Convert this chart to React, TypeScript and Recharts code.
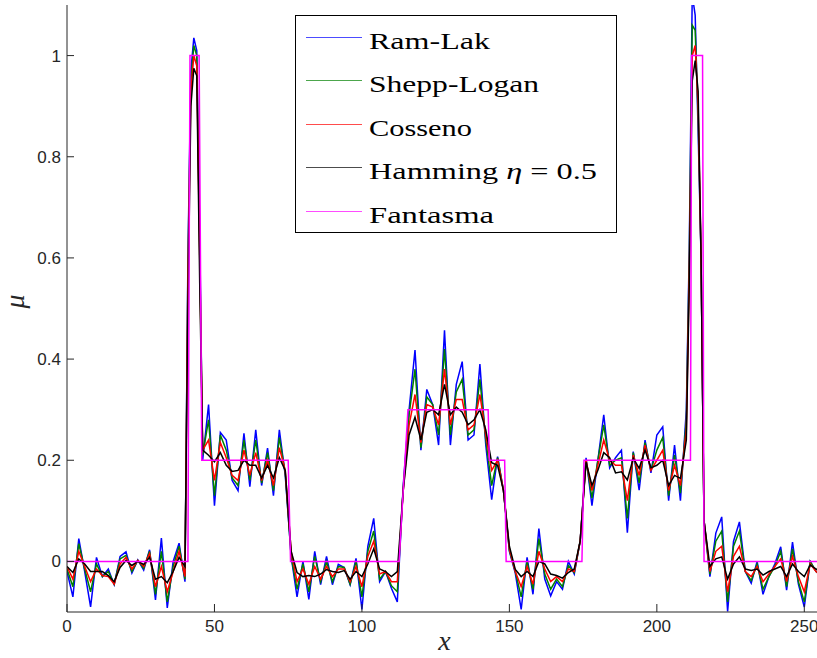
import { LineChart, Line, XAxis, YAxis, Legend, Label } from "recharts";

// sample positions (step 2, plus the odd samples around the two narrow peaks)
const xs = [
  0, 2, 4, 6, 8, 10, 12, 14, 16, 18, 20, 22, 24, 26, 28, 30, 32, 34, 36, 38, 40, 41, 42, 43, 44, 45,
  46, 48, 50, 52, 54, 56, 58, 60, 62, 64, 66, 68, 70, 72, 74, 76, 78, 80, 82, 84, 86, 88, 90, 92, 94,
  96, 98, 100, 102, 104, 106, 108, 110, 112, 114, 116, 118, 120, 122, 124, 126, 128, 130, 132, 134,
  136, 138, 140, 142, 144, 146, 148, 150, 152, 154, 156, 158, 160, 162, 164, 166, 168, 170, 172, 174,
  176, 178, 180, 182, 184, 186, 188, 190, 192, 194, 196, 198, 200, 202, 204, 206, 208, 210, 211, 212,
  213, 214, 215, 216, 218, 220, 222, 224, 226, 228, 230, 232, 234, 236, 238, 240, 242, 244, 246, 248,
  250, 252, 254, 256,
];

const ramLak = [
  -0.02, -0.07, 0.045, -0.02, -0.09, 0.008, -0.03, -0.015, -0.046, 0.01, 0.019, -0.023, 0.003, -0.017,
  0.023, -0.076, 0.046, -0.092, 0.0, 0.036, -0.04, 0.6, 0.97, 1.035, 1.01, 0.65,
  0.2, 0.31, 0.11, 0.255, 0.24, 0.16, 0.14, 0.253, 0.148, 0.26, 0.15, 0.224, 0.13, 0.26, 0.17, 0.01,
  -0.07, 0.0, -0.075, 0.02, -0.046, 0.01, -0.046, -0.006, -0.012, -0.046, 0.006, -0.095, 0.03, 0.085,
  -0.04, -0.02, -0.053, -0.08, 0.15, 0.3, 0.418, 0.22, 0.34, 0.31, 0.23, 0.457, 0.23, 0.35, 0.395,
  0.24, 0.25, 0.39, 0.23, 0.122, 0.207, 0.14, 0.02, -0.023, -0.095, 0.008, -0.065, 0.065, -0.035,
  -0.068, -0.04, -0.055, 0.0, -0.025, 0.04, 0.205, 0.11, 0.2, 0.29, 0.185, 0.205, 0.22, 0.057, 0.217,
  0.141, 0.24, 0.175, 0.25, 0.266, 0.12, 0.23, 0.12, 0.3, 0.62, 1.12, 1.08, 0.85, 0.6, 0.08, -0.03,
  0.056, 0.088, -0.099, 0.04, 0.078, -0.02, -0.043, 0.0, -0.065, -0.03, -0.005, 0.029, -0.057, 0.038,
  -0.045, -0.09, 0.0, -0.02, -0.03,
];

const sheppLogan = [
  -0.015, -0.05, 0.035, -0.015, -0.06, -0.005, -0.03, -0.02, -0.045, 0.005, 0.012, -0.02, 0.002,
  -0.014, 0.02, -0.065, 0.02, -0.08, -0.01, 0.03, -0.035, 0.58, 0.95, 1.02, 1.0, 0.62,
  0.21, 0.28, 0.13, 0.25, 0.22, 0.165, 0.15, 0.24, 0.16, 0.24, 0.155, 0.215, 0.14, 0.245, 0.175, 0.01,
  -0.055, -0.005, -0.06, 0.01, -0.04, 0.0, -0.04, -0.01, -0.012, -0.045, 0.0, -0.07, 0.02, 0.06,
  -0.035, -0.02, -0.048, -0.06, 0.145, 0.29, 0.38, 0.225, 0.325, 0.31, 0.25, 0.42, 0.25, 0.335, 0.36,
  0.25, 0.26, 0.36, 0.24, 0.15, 0.205, 0.14, 0.022, -0.02, -0.07, 0.0, -0.055, 0.045, -0.025, -0.055,
  -0.035, -0.05, -0.008, -0.022, 0.04, 0.2, 0.125, 0.2, 0.27, 0.19, 0.2, 0.205, 0.085, 0.215, 0.155,
  0.235, 0.18, 0.22, 0.245, 0.13, 0.21, 0.135, 0.28, 0.6, 1.06, 1.05, 0.88, 0.6, 0.08, -0.025, 0.04,
  0.06, -0.08, 0.03, 0.06, -0.02, -0.038, -0.005, -0.055, -0.03, -0.01, 0.02, -0.05, 0.025, -0.04,
  -0.08, 0.0, -0.02, -0.03,
];

const cosseno = [
  -0.01, -0.035, 0.02, -0.01, -0.04, -0.015, -0.028, -0.03, -0.045, -0.005, 0.008, -0.015, 0.002,
  -0.01, 0.015, -0.05, -0.01, -0.06, -0.02, 0.02, -0.03, 0.55, 0.93, 1.0, 0.98, 0.6,
  0.22, 0.24, 0.16, 0.235, 0.205, 0.17, 0.16, 0.22, 0.17, 0.215, 0.16, 0.2, 0.15, 0.225, 0.18, 0.02,
  -0.04, -0.015, -0.045, -0.01, -0.035, -0.01, -0.03, -0.015, -0.015, -0.04, -0.01, -0.05, 0.01, 0.04,
  -0.025, -0.02, -0.04, -0.04, 0.14, 0.27, 0.33, 0.235, 0.31, 0.305, 0.27, 0.38, 0.27, 0.32, 0.32,
  0.26, 0.27, 0.33, 0.25, 0.18, 0.2, 0.14, 0.025, -0.02, -0.05, -0.01, -0.045, 0.02, -0.015, -0.04,
  -0.03, -0.04, -0.015, -0.02, 0.04, 0.2, 0.14, 0.19, 0.24, 0.2, 0.19, 0.19, 0.12, 0.21, 0.17, 0.23,
  0.18, 0.2, 0.22, 0.14, 0.19, 0.15, 0.26, 0.57, 1.0, 1.02, 0.9, 0.6, 0.08, -0.02, 0.02, 0.03, -0.06,
  0.01, 0.03, -0.02, -0.03, -0.01, -0.04, -0.025, -0.01, 0.005, -0.04, 0.01, -0.03, -0.06, -0.005,
  -0.02, -0.03,
];

const hamming = [
  -0.01, -0.022, 0.005, -0.005, -0.02, -0.02, -0.02, -0.028, -0.04, -0.012, 0.002, -0.008, 0.0,
  -0.006, 0.008, -0.035, -0.03, -0.042, -0.02, 0.008, -0.01, 0.5, 0.9, 0.975, 0.96, 0.55,
  0.22, 0.21, 0.197, 0.215, 0.19, 0.178, 0.18, 0.2, 0.19, 0.19, 0.165, 0.19, 0.165, 0.205, 0.18, 0.02,
  -0.022, -0.03, -0.028, -0.03, -0.025, -0.016, -0.02, -0.022, -0.018, -0.035, -0.02, -0.03, -0.005,
  0.025, -0.015, -0.02, -0.03, -0.02, 0.14, 0.25, 0.285, 0.24, 0.295, 0.3, 0.29, 0.35, 0.29, 0.305,
  0.295, 0.27, 0.28, 0.3, 0.26, 0.195, 0.19, 0.14, 0.03, -0.016, -0.03, -0.02, -0.03, 0.0, -0.005,
  -0.025, -0.028, -0.033, -0.022, -0.015, 0.04, 0.196, 0.15, 0.18, 0.215, 0.205, 0.175, 0.177, 0.161,
  0.204, 0.184, 0.22, 0.185, 0.19, 0.2, 0.15, 0.17, 0.164, 0.24, 0.55, 0.95, 0.99, 0.93, 0.6, 0.08,
  -0.01, 0.005, 0.009, -0.035, -0.005, 0.009, -0.015, -0.018, -0.015, -0.027, -0.02, -0.015, -0.01,
  -0.03, -0.005, -0.02, -0.03, -0.007, -0.015, -0.02,
];

// phantom profile (corners of the piecewise-constant line)
const phantomX = [0, 41, 41.7, 44.8, 45.7, 75, 75.8, 112.6, 115.6, 142.8, 143.2, 148.4, 148.9, 174.6, 175.3, 211.4, 211.8, 215.5, 216, 256];
const phantomY = [0, 0, 1, 1, 0.2, 0.2, 0, 0, 0.3, 0.3, 0.2, 0.2, 0, 0, 0.2, 0.2, 1, 1, 0, 0];

const xTicks = [0, 50, 100, 150, 200, 250];
const yTicks = [0, 0.2, 0.4, 0.6, 0.8, 1];

const series = [
  { key: "ramLak", name: "Ram-Lak", color: "#0000ff" },
  { key: "sheppLogan", name: "Shepp-Logan", color: "#008000" },
  { key: "cosseno", name: "Cosseno", color: "#ff0000" },
  { key: "hamming", name: "Hamming η = 0.5", color: "#000000" },
  { key: "fantasma", name: "Fantasma", color: "#ff00ff" },
];

const rows = xs.map((x, i) => ({
  x,
  ramLak: ramLak[i],
  sheppLogan: sheppLogan[i],
  cosseno: cosseno[i],
  hamming: hamming[i],
}));
const phantomRows = phantomX.map((x, i) => ({ x, fantasma: phantomY[i] }));

const axisColor = "#262626";
const tickFont = { fontSize: 17, fill: axisColor, fontFamily: "Liberation Sans" };
const labelWidths = [121, 170, 103, 228, 125];

function FilterLegend() {
  return (
    <svg width={323} height={219} style={{ display: "block" }}>
      <rect x={0.5} y={0.5} width={321} height={217} fill="#fff" stroke="#000" />
      {series.map((s, i) => {
        const y = Math.round(22 + i * 43.4) + 0.5;
        return (
          <g key={s.key}>
            <line x1={11} x2={67} y1={y} y2={y} stroke={s.color} strokeOpacity={0.7} strokeWidth={1} />
            <text
              x={74}
              y={y + 11}
              textLength={labelWidths[i]}
              lengthAdjust="spacingAndGlyphs"
              fontFamily="Liberation Serif"
              fontSize={23}
              fill="#000"
            >
              {s.key === "hamming" ? (
                <>
                  Hamming <tspan fontStyle="italic">η</tspan> = 0.5
                </>
              ) : (
                s.name
              )}
            </text>
          </g>
        );
      })}
    </svg>
  );
}

export default function App() {
  return (
    <div
      style={{
        position: "absolute",
        left: 0,
        top: 0,
        width: 817,
        height: 658,
        overflow: "hidden",
        background: "#fff",
      }}
    >
      <LineChart
        width={830}
        height={658}
        data={rows}
        margin={{ top: 5, right: 8, left: 0, bottom: 16 }}
      >
        <XAxis
          xAxisId="b"
          dataKey="x"
          type="number"
          domain={[0, 256]}
          ticks={xTicks}
          allowDataOverflow
          height={30}
          tickSize={-8}
          tickMargin={16}
          stroke={axisColor}
          tick={tickFont}
        >
          <Label
            value="x"
            position="bottom"
            offset={-12}
            style={{ fontFamily: "Liberation Serif", fontStyle: "italic", fontSize: 28, fill: axisColor }}
          />
        </XAxis>
        <XAxis
          xAxisId="t"
          orientation="top"
          type="number"
          domain={[0, 256]}
          ticks={xTicks}
          allowDataOverflow
          height={0}
          tickSize={-8}
          tick={false}
          stroke={axisColor}
        />
        <YAxis
          yAxisId="l"
          type="number"
          domain={[-0.1, 1.1]}
          ticks={yTicks}
          allowDataOverflow
          width={67}
          tickSize={-7}
          tickMargin={13}
          stroke={axisColor}
          tick={tickFont}
        >
          <Label
            value="μ"
            angle={-90}
            position="insideLeft"
            offset={14}
            style={{ fontFamily: "Liberation Serif", fontStyle: "italic", fontSize: 28, fill: axisColor }}
          />
        </YAxis>
        <YAxis
          yAxisId="r"
          orientation="right"
          type="number"
          domain={[-0.1, 1.1]}
          ticks={yTicks}
          allowDataOverflow
          width={0}
          tickSize={-7}
          tick={false}
          stroke={axisColor}
        />
        <Legend
          layout="vertical"
          align="center"
          verticalAlign="middle"
          wrapperStyle={{ left: 295, top: 15, width: 323, height: 219 }}
          content={() => <FilterLegend />}
        />
        {series.slice(0, 4).map((s) => (
          <Line
            key={s.key}
            xAxisId="b"
            yAxisId="l"
            type="linear"
            dataKey={s.key}
            name={s.name}
            stroke={s.color}
            strokeWidth={1.5}
            dot={false}
            isAnimationActive={false}
          />
        ))}
        <Line
          xAxisId="b"
          yAxisId="l"
          type="linear"
          data={phantomRows}
          dataKey="fantasma"
          name="Fantasma"
          stroke="#ff00ff"
          strokeWidth={1.5}
          dot={false}
          isAnimationActive={false}
        />
      </LineChart>
    </div>
  );
}
